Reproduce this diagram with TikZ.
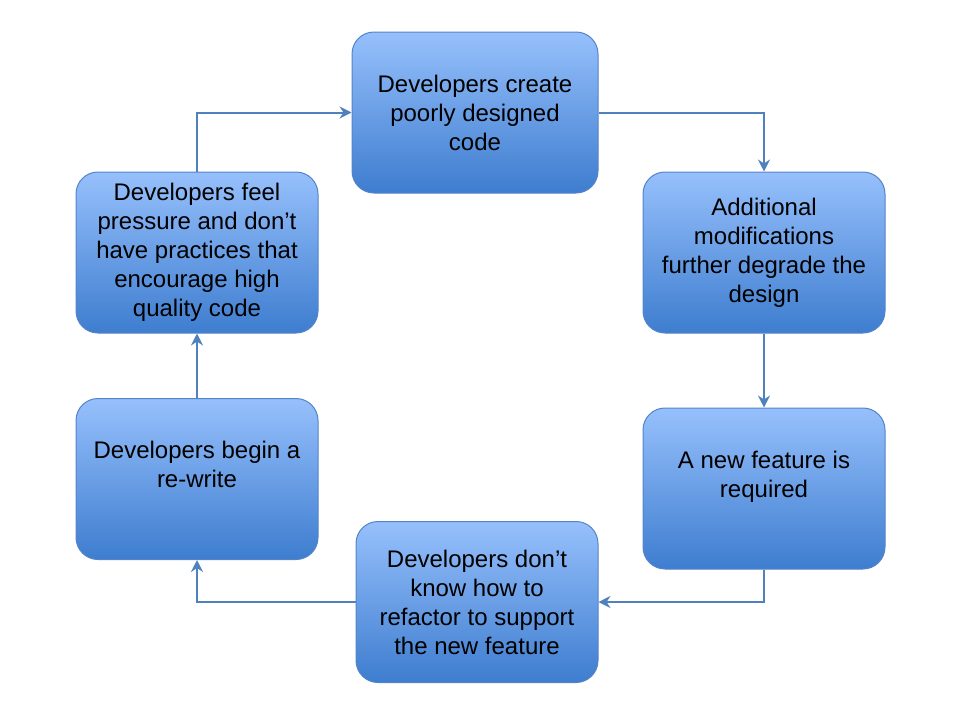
\documentclass[tikz,border=0pt]{standalone}
\usepackage{fontspec}
\setmainfont{Liberation Sans}
\usetikzlibrary{arrows.meta}

\definecolor{boxtop}{RGB}{150,192,252}
\definecolor{boxbottom}{RGB}{62,125,207}
\definecolor{boxline}{RGB}{84,132,200}
\definecolor{flow}{RGB}{79,129,189}

\begin{document}
\begin{tikzpicture}[x=1pt, y=-1pt,
	stage/.style={draw=boxline, line width=1pt, rounded corners=22pt,
		top color=boxtop, bottom color=boxbottom,
		minimum width=242pt, minimum height=161pt, inner sep=0pt,
		align=center, font=\fontsize{24}{29}\selectfont},
	flowline/.style={draw=flow, line width=2pt,
		-{Stealth[length=12pt, width=12pt, inset=4pt]}}]
		%canvas
		\useasboundingbox (0,0) rectangle (960,720);
		
		%stages of the cycle
		\node [stage, minimum width=246pt] (create) at (475,112.5) {Developers create\\poorly designed\\code};
		\node [stage] (modify) at (764,252.5) {Additional\\modifications\\further degrade the\\design};
		\node [stage] (feature) at (764,488.5) {A new feature is\\required\\\mbox{}};
		\node [stage] (refactor) at (477,602) {Developers don’t\\know how to\\refactor to support\\the new feature};
		\node [stage] (rewrite) at (197,479) {Developers begin a\\re-write\\\mbox{}};
		\node [stage] (pressure) at (197,252.5) {Developers feel\\pressure and don’t\\have practices that\\encourage high\\quality code};
		
		%cycle
		\draw [flowline] (create.east) -| (modify.north);
		\draw [flowline] (modify.south) -- (feature.north);
		\draw [flowline] (feature.south) |- (refactor.east);
		\draw [flowline] (refactor.west) -| (rewrite.south);
		\draw [flowline] (rewrite.north) -- (pressure.south);
		\draw [flowline] (pressure.north) |- (create.west);

	\end{tikzpicture}
\end{document}
